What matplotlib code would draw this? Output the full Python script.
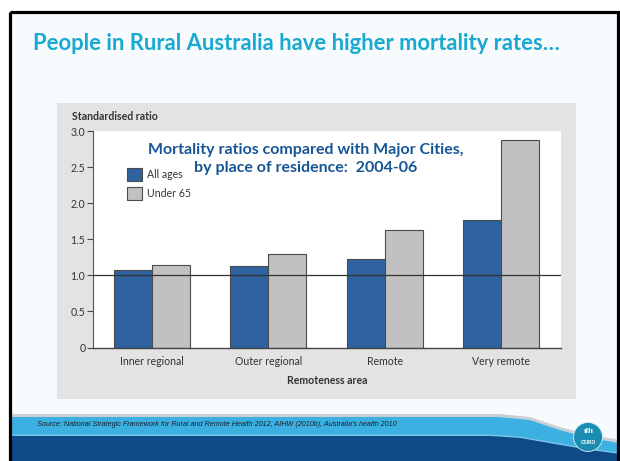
import numpy as np
import matplotlib.pyplot as plt
from matplotlib.patches import Rectangle, Polygon, Circle

# data
areas = ["Inner regional", "Outer regional", "Remote", "Very remote"]
all_ages = [1.07, 1.13, 1.23, 1.76]
under_65 = [1.14, 1.30, 1.63, 2.87]
series_names = ["All ages", "Under 65"]
yticks = [0, 0.5, 1.0, 1.5, 2.0, 2.5, 3.0]
ytick_labels = ["0", "0.5", "1.0", "1.5", "2.0", "2.5", "3.0"]

BLUE = "#2f63a0"
GREY = "#c1c1c1"
EDGE = "#4a4a4a"
TITLE_CYAN = "#18a9d0"
TITLE_NAVY = "#175596"

W, H = 620, 461
fig = plt.figure(figsize=(W / 100, H / 100), dpi=100)
fig.patch.set_facecolor("white")

# background layer in pixel coords (y down)
bg = fig.add_axes([0, 0, 1, 1])
bg.set_xlim(0, W)
bg.set_ylim(H, 0)
bg.axis("off")

# slide face
bg.add_patch(Rectangle((9.5, 12), 608, 460, facecolor="#f7fbfd", edgecolor="none", zorder=0))

# bottom banner with swoosh on the right
xs = np.linspace(9.5, 618, 200)
light_top = np.interp(xs, [0, 500, 530, 560, 590, 620], [417, 417, 420, 430, 438, 443])
dark_top = np.interp(xs, [0, 490, 520, 560, 590, 620], [436, 436, 438, 445, 450, 454])
shadow = np.column_stack([np.r_[xs, xs[::-1]], np.r_[light_top - 3, light_top[::-1]]])
bg.add_patch(Polygon(shadow, closed=True, facecolor="#c9cfd3", edgecolor="none", zorder=1))
light = np.column_stack([np.r_[xs, xs[::-1]], np.r_[light_top, np.full_like(xs, 470)]])
bg.add_patch(Polygon(light, closed=True, facecolor="#3cb1e1", edgecolor="none", zorder=1))
edge_band = np.column_stack([np.r_[xs, xs[::-1]], np.r_[dark_top - 1.5, dark_top[::-1]]])
bg.add_patch(Polygon(edge_band, closed=True, facecolor="#7cc3e6", edgecolor="none", zorder=2))
dark = np.column_stack([np.r_[xs, xs[::-1]], np.r_[dark_top, np.full_like(xs, 470)]])
bg.add_patch(Polygon(dark, closed=True, facecolor="#0e4a86", edgecolor="none", zorder=2))

# CSIRO logo
bg.add_patch(Circle((588, 437), 14.5, facecolor="#1c8db2", edgecolor="#d8eef6", lw=0.6, zorder=3))
bg.text(588, 442, "CSIRO", color="white", fontsize=3.4, fontweight="bold",
        ha="center", va="center", family="Liberation Sans", zorder=4)
bg.text(588, 431, "ıllı", color="white", fontsize=5, fontweight="bold",
        ha="center", va="center", family="DejaVu Sans", zorder=4)

# black slide frame
bg.add_patch(Rectangle((9.5, 12.5), 608, 460, facecolor="none", edgecolor="black", lw=2.3, zorder=5))

# grey chart panel
bg.add_patch(Rectangle((57, 103), 519, 296, facecolor="#e3e3e3", edgecolor="none", zorder=1))

# slide title and source
bg.text(33, 43, "People in Rural Australia have higher mortality rates…", color=TITLE_CYAN,
        fontsize=15.8, fontweight="bold", family="Lato", ha="left", va="center")
bg.text(37, 424.5, "Source: National Strategic Framework for Rural and Remote Health 2012, "
        "AIHW (2010b), Australia's health 2010", color="#15202e", fontsize=5.2,
        style="italic", family="Liberation Sans", ha="left", va="center", zorder=3)

# chart
left, right, top, bottom = 93, 561, 131, 347.5
ax = fig.add_axes([left / W, 1 - bottom / H, (right - left) / W, (bottom - top) / H])
ax.set_facecolor("white")

x = np.arange(len(areas))
bw = 0.327
ax.bar(x - bw / 2, all_ages, bw, color=BLUE, edgecolor=EDGE, linewidth=0.8, label=series_names[0], zorder=2)
ax.bar(x + bw / 2, under_65, bw, color=GREY, edgecolor=EDGE, linewidth=0.8, label=series_names[1], zorder=2)
ax.axhline(1.0, color="#333333", linewidth=0.9, zorder=3)

ax.set_xlim(-0.507, 3.517)
ax.set_ylim(0, 3.0)
ax.set_yticks(yticks)
ax.set_yticklabels(ytick_labels)
ax.set_xticks(x)
ax.set_xticklabels(areas)
ax.tick_params(axis="y", length=4, width=0.8, color="#444444", pad=1.5,
               labelsize=7.6, labelcolor="#333333")
ax.tick_params(axis="x", length=0, pad=6, labelsize=7.6, labelcolor="#333333")
for lbl in ax.get_xticklabels() + ax.get_yticklabels():
    lbl.set_family("Lato")
ax.set_xlabel("Remoteness area", fontsize=7.6, fontweight="bold", color="#333333",
              family="Lato", labelpad=6)
for s in ("top", "right"):
    ax.spines[s].set_visible(False)
ax.spines["left"].set_color("#555555")
ax.spines["left"].set_linewidth(0.8)
ax.spines["bottom"].set_color("#444444")
ax.spines["bottom"].set_linewidth(1.0)

fig.text(72 / W, 1 - 117 / H, "Standardised ratio", fontsize=7.6, fontweight="bold",
         color="#333333", family="Lato", ha="left", va="center")

leg = ax.legend(loc="upper left", bbox_to_anchor=(127 / W, 1 - 168 / H), bbox_transform=fig.transFigure,
                frameon=False, handlelength=1.45, handleheight=1.55,
                handletextpad=0.4, labelspacing=0.55, borderpad=0, borderaxespad=0,
                prop={"family": "Lato", "size": 7.6})
for t in leg.get_texts():
    t.set_color("#333333")

# chart title, two lines placed separately
fig.text(306 / W, 1 - 154 / H, "Mortality ratios compared with Major Cities,",
         color=TITLE_NAVY, fontsize=11.5, fontweight="bold", family="Lato",
         ha="center", va="baseline")
fig.text(306 / W, 1 - 171.5 / H, "by place of residence:  2004-06",
         color=TITLE_NAVY, fontsize=11.5, fontweight="bold", family="Lato",
         ha="center", va="baseline")

fig.savefig("out.png", dpi=100)
